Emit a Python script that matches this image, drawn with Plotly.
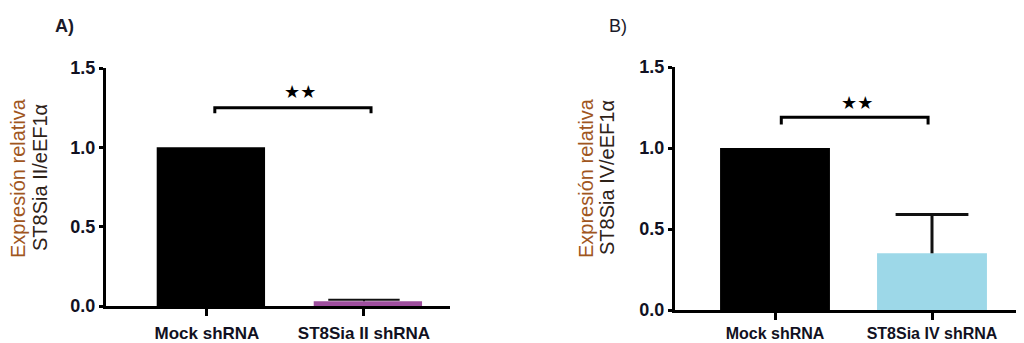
import plotly.graph_objects as go

categories_a = ["Mock shRNA", "ST8Sia II shRNA"]
values_a = [1.0, 0.03]
errors_a = [0.0, 0.01]
colors_a = ["#000000", "#9E4F9E"]

categories_b = ["Mock shRNA", "ST8Sia IV shRNA"]
values_b = [1.0, 0.35]
errors_b = [0.0, 0.24]
colors_b = ["#000000", "#9DD8E8"]

y_ticks = [0.0, 0.5, 1.0, 1.5]
y_tick_labels = ["0.0", "0.5", "1.0", "1.5"]

title_line1 = "Expresión relativa"
title_a_line2 = "ST8Sia II/eEF1α"
title_b_line2 = "ST8Sia IV/eEF1α"

# significance brackets: (x_left, x_right, y_top, y_end)
bracket_a = (0.05, 1.045, 1.25, 1.215)
bracket_b = (0.04, 0.975, 1.19, 1.145)
stars_a = (0.59, 1.35)
stars_b = (0.52, 1.28)

# page body has an 8px margin: figure sized to the window minus that offset
OFF = 8
W, H = 1024 - OFF, 343 - OFF


def px_x(px):
    return (px - OFF) / W


def px_y(py):
    return 1 - (py - OFF) / H


fig = go.Figure()

fig.add_trace(go.Bar(
    x=categories_a, y=values_a, marker=dict(color=colors_a, line=dict(width=0)),
    width=0.69, offset=-0.32, xaxis="x", yaxis="y", showlegend=False,
))
fig.add_trace(go.Bar(
    x=categories_b, y=values_b, marker=dict(color=colors_b, line=dict(width=0)),
    width=0.70, offset=-0.35, xaxis="x2", yaxis="y2", showlegend=False,
))

# error bars (upper only): stem + cap
for cats, vals, errs, xa, ya, cap, thick in [
    (categories_a, values_a, errors_a, "x", "y", 51, 2),
    (categories_b, values_b, errors_b, "x2", "y2", 52, 3),
]:
    ex = [c for c, e in zip(cats, errs) if e > 0]
    ev = [v for v, e in zip(vals, errs) if e > 0]
    ee = [e for e in errs if e > 0]
    fig.add_trace(go.Scatter(
        x=ex, y=ev, mode="markers", marker=dict(size=1, opacity=0),
        error_y=dict(type="data", array=ee, arrayminus=[0] * len(ee), symmetric=False,
                     thickness=thick, width=0, color="#111111"),
        xaxis=xa, yaxis=ya, showlegend=False, hoverinfo="skip",
    ))
    fig.add_trace(go.Scatter(
        x=ex, y=[v + e for v, e in zip(ev, ee)], mode="markers",
        marker=dict(symbol="line-ew", size=cap, line=dict(width=thick, color="#111111")),
        xaxis=xa, yaxis=ya, showlegend=False, hoverinfo="skip",
    ))

tick_font = dict(family="Liberation Sans, Arial", size=18, color="#111122", weight="bold")
xtick_font = dict(family="Liberation Sans, Arial", size=17, color="#111122", weight="bold")
xtick_font_b = dict(family="Liberation Sans, Arial", size=16, color="#111122", weight="bold")

common_x = dict(showline=True, linewidth=3, linecolor="black", ticks="outside",
                ticklen=7, tickwidth=3, tickcolor="black", showgrid=False,
                zeroline=False, automargin=False, fixedrange=True)
common_y = dict(showline=True, linewidth=3, linecolor="black", ticks="outside",
                ticklen=4, tickwidth=3, tickcolor="black", showgrid=False,
                zeroline=False, tickfont=tick_font, automargin=False,
                range=[0, 1.5], tickvals=y_ticks, ticktext=y_tick_labels,
                ticklabelstandoff=0, fixedrange=True)

fig.update_layout(
    width=W, height=H,
    margin=dict(l=0, r=0, t=0, b=0),
    paper_bgcolor="white", plot_bgcolor="white",
    xaxis=dict(domain=[px_x(106), px_x(450)], range=[-0.643, 1.548], anchor="y",
               tickfont=xtick_font, ticklabelstandoff=3, **common_x),
    yaxis=dict(domain=[px_y(306), px_y(68)], anchor="x", **common_y),
    xaxis2=dict(domain=[px_x(675), 1.0], range=[-0.637, 1.586], anchor="y2",
                tickfont=xtick_font_b, ticklabelstandoff=0, **common_x),
    yaxis2=dict(domain=[px_y(310), px_y(67)], anchor="x2", **common_y),
)

for (xl, xr, yt, ye), xr_ref, yr_ref in [(bracket_a, "x", "y"), (bracket_b, "x2", "y2")]:
    fig.add_shape(type="path",
                  path=f"M {xl} {ye} L {xl} {yt} L {xr} {yt} L {xr} {ye}",
                  xref=xr_ref, yref=yr_ref, line=dict(color="black", width=3))

for (sx, sy), xr_ref, yr_ref in [(stars_a, "x", "y"), (stars_b, "x2", "y2")]:
    fig.add_annotation(x=sx, y=sy, xref=xr_ref, yref=yr_ref, text="★★",
                       showarrow=False, xanchor="center", yanchor="middle",
                       font=dict(family="DejaVu Sans", size=18, color="black"))

# y-axis titles
for x_px1, x_px2, y_px, line2 in [(18, 40, 178, title_a_line2), (586, 607, 178, title_b_line2)]:
    fig.add_annotation(x=px_x(x_px1), y=px_y(y_px), xref="paper", yref="paper",
                       text=title_line1, textangle=-90, showarrow=False,
                       xanchor="center", yanchor="middle",
                       font=dict(family="Liberation Sans, Arial", size=20, color="#A0561E"))
    fig.add_annotation(x=px_x(x_px2), y=px_y(y_px), xref="paper", yref="paper",
                       text=line2, textangle=-90, showarrow=False,
                       xanchor="center", yanchor="middle",
                       font=dict(family="Liberation Sans, Arial", size=20, color="#2e2218"))

fig.add_annotation(x=px_x(64), y=px_y(26), xref="paper", yref="paper", text="A)",
                   showarrow=False, xanchor="center", yanchor="middle",
                   font=dict(family="Liberation Sans, Arial", size=18,
                             color="#1a1a2a", weight="bold"))
fig.add_annotation(x=px_x(618), y=px_y(26), xref="paper", yref="paper", text="B)",
                   showarrow=False, xanchor="center", yanchor="middle",
                   font=dict(family="Liberation Sans, Arial", size=18, color="#1a1a2a"))

fig.write_html("out.html")
